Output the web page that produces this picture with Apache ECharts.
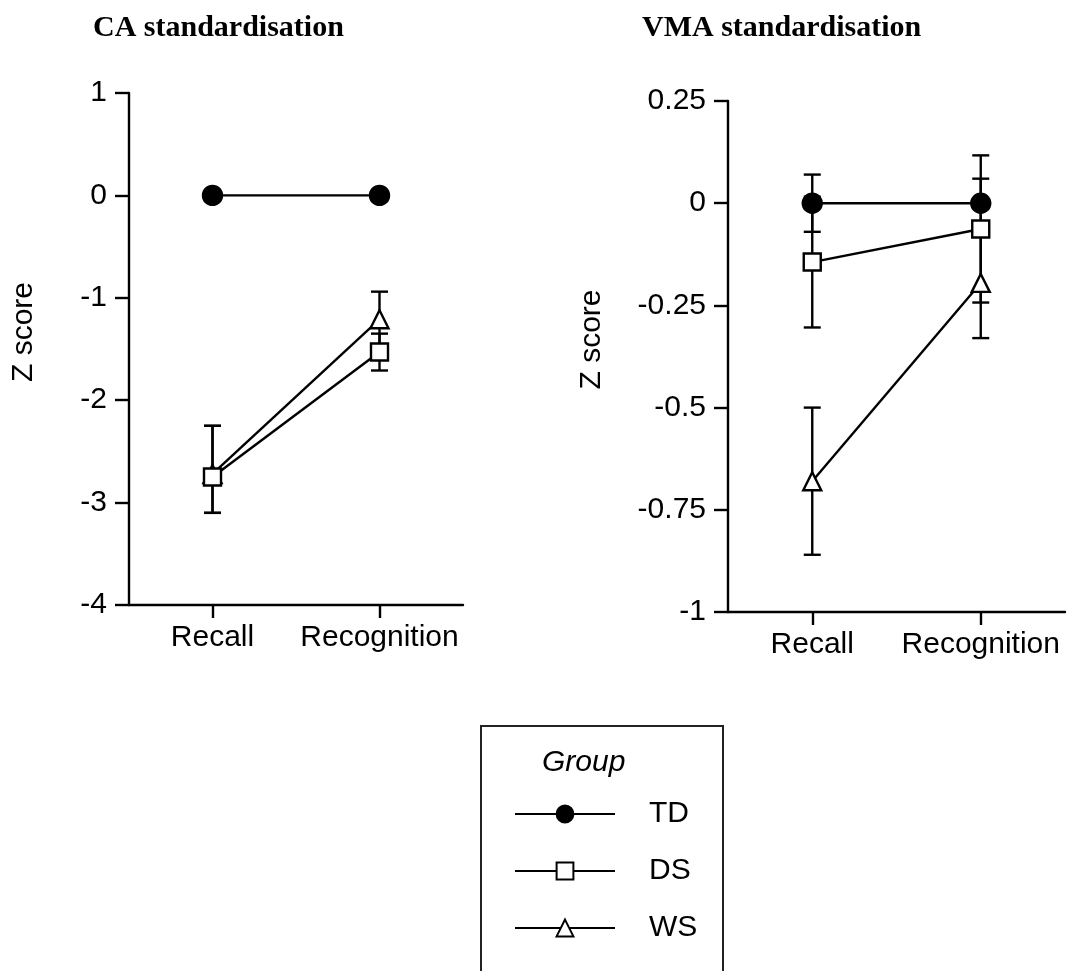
<!DOCTYPE html>
<html>
<head>
<meta charset="utf-8">
<script src="https://cdn.jsdelivr.net/npm/echarts@6/dist/echarts.min.js"></script>
<style>html,body{margin:0;padding:0;background:#fff}#c{width:1072px;height:971px}</style>
</head>
<body>
<div id="c"></div>
<script>
// ---------- data ----------
const categories = ['Recall', 'Recognition'];
const groups = ['TD', 'DS', 'WS'];

// CA standardisation (Z score)
const caTD = [0, 0];
const caDS = [-2.75, -1.53];
const caWS = [-2.72, -1.21];
const caTDUp = [0, 0],       caTDDown = [0, 0];
const caDSUp = [0.5, 0.18],  caDSDown = [0.35, 0.18];
const caWSUp = [0.47, 0.27], caWSDown = [0.38, 0.27];

// VMA standardisation (Z score)
const vmaTD = [0, 0];
const vmaDS = [-0.144, -0.063];
const vmaWS = [-0.68, -0.195];
const vmaTDUp = [0.07, 0.06],  vmaTDDown = [0.07, 0.06];
const vmaDSUp = [0.16, 0.18],  vmaDSDown = [0.16, 0.18];
const vmaWSUp = [0.18, 0.135], vmaWSDown = [0.18, 0.135];

const caTicks = { min: -4, max: 1, interval: 1 };
const vmaTicks = { min: -1, max: 0.25, interval: 0.25 };

// ---------- helpers ----------
const FONT = 'Liberation Sans, Arial, sans-serif';
const FS = 30;
const LW = 2.4;
const symbols = { TD: 'circle', DS: 'rect', WS: 'triangle' };
const fills = { TD: '#000', DS: '#fff', WS: '#fff' };
const sizes = { TD: 19, DS: 17, WS: 18 };
const zs = { TD: 5, DS: 4, WS: 3 };

function lineSeries(name, values, gi) {
  return {
    type: 'line', name: name, data: values,
    xAxisIndex: gi, yAxisIndex: gi,
    symbol: symbols[name], symbolSize: sizes[name],
    lineStyle: { color: '#000', width: LW },
    itemStyle: { color: fills[name], borderColor: '#000', borderWidth: LW },
    z: zs[name], animation: false, silent: true
  };
}
function errSeries(name, values, up, down, gi) {
  const d = values.map((v, i) => [i, v - down[i], v + up[i]]).filter((r, i) => up[i] > 0 || down[i] > 0);
  return {
    type: 'custom', name: name + ' err', xAxisIndex: gi, yAxisIndex: gi, z: 1,
    data: d, animation: false, silent: true,
    renderItem: function (params, api) {
      const lo = api.coord([api.value(0), api.value(1)]);
      const hi = api.coord([api.value(0), api.value(2)]);
      const hw = 8.5;
      const st = { stroke: '#000', lineWidth: LW };
      return { type: 'group', children: [
        { type: 'line', shape: { x1: lo[0], y1: lo[1], x2: hi[0], y2: hi[1] }, style: st },
        { type: 'line', shape: { x1: lo[0] - hw, y1: lo[1], x2: lo[0] + hw, y2: lo[1] }, style: st },
        { type: 'line', shape: { x1: hi[0] - hw, y1: hi[1], x2: hi[0] + hw, y2: hi[1] }, style: st }
      ]};
    }
  };
}
function xAxis(gi) {
  return {
    type: 'category', gridIndex: gi, data: categories, boundaryGap: true,
    axisLine: { show: true, onZero: false, lineStyle: { color: '#000', width: LW } },
    axisTick: { show: true, alignWithLabel: true, inside: false, length: 13, lineStyle: { color: '#000', width: LW } },
    axisLabel: { interval: 0, color: '#000', fontSize: FS, fontFamily: FONT, margin: 18 },
    splitLine: { show: false }
  };
}
function yAxis(gi, t, gap) {
  return {
    type: 'value', gridIndex: gi, min: t.min, max: t.max, interval: t.interval,
    name: 'Z score', nameLocation: 'middle', nameGap: gap,
    nameTextStyle: { color: '#000', fontSize: FS, fontFamily: FONT, padding: [0, 0, 0, 34] },
    axisLine: { show: true, lineStyle: { color: '#000', width: LW } },
    axisTick: { show: true, length: 14, lineStyle: { color: '#000', width: LW } },
    axisLabel: { color: '#000', fontSize: FS, fontFamily: FONT, margin: 22 },
    splitLine: { show: false }
  };
}

const series = [];
[['WS', caWS, caWSUp, caWSDown], ['DS', caDS, caDSUp, caDSDown], ['TD', caTD, caTDUp, caTDDown]].forEach(s => {
  series.push(lineSeries(s[0], s[1], 0));
  series.push(errSeries(s[0], s[1], s[2], s[3], 0));
});
[['WS', vmaWS, vmaWSUp, vmaWSDown], ['DS', vmaDS, vmaDSUp, vmaDSDown], ['TD', vmaTD, vmaTDUp, vmaTDDown]].forEach(s => {
  series.push(lineSeries(s[0], s[1], 1));
  series.push(errSeries(s[0], s[1], s[2], s[3], 1));
});

const titleStyle = { fontFamily: 'Liberation Serif, Times New Roman, serif', fontWeight: 'bold', fontSize: 30, color: '#000' };
const chart = echarts.init(document.getElementById('c'), null, { renderer: 'canvas' });
chart.setOption({
  backgroundColor: '#fff',
  animation: false,
  title: [
    { text: 'CA standardisation', left: 88, top: 8, textStyle: titleStyle },
    { text: 'VMA standardisation', left: 637, top: 8, textStyle: titleStyle }
  ],
  grid: [
    { left: 129, top: 93, width: 334, height: 512, containLabel: false },
    { left: 728, top: 101, width: 337, height: 511, containLabel: false }
  ],
  xAxis: [xAxis(0), xAxis(1)],
  yAxis: [yAxis(0, caTicks, 90), yAxis(1, vmaTicks, 121)],
  legend: {
    data: groups, orient: 'vertical', left: 509, top: 794,
    itemWidth: 100, itemHeight: 21, itemGap: 27,
    selectedMode: false,
    textStyle: { color: '#000', fontSize: FS, fontFamily: FONT, padding: [0, 0, 0, 29] }
  },
  graphic: [
    { type: 'rect', shape: { x: 481, y: 726, width: 242, height: 300 },
      style: { fill: 'none', stroke: '#222', lineWidth: 2 }, z: 0 },
    { type: 'text', x: 542, y: 763,
      style: { text: 'Group', fill: '#000', font: 'italic ' + FS + 'px Liberation Sans, Arial, sans-serif', textVerticalAlign: 'middle', verticalAlign: 'middle' } }
  ],
  series: series
});
</script>
</body>
</html>
